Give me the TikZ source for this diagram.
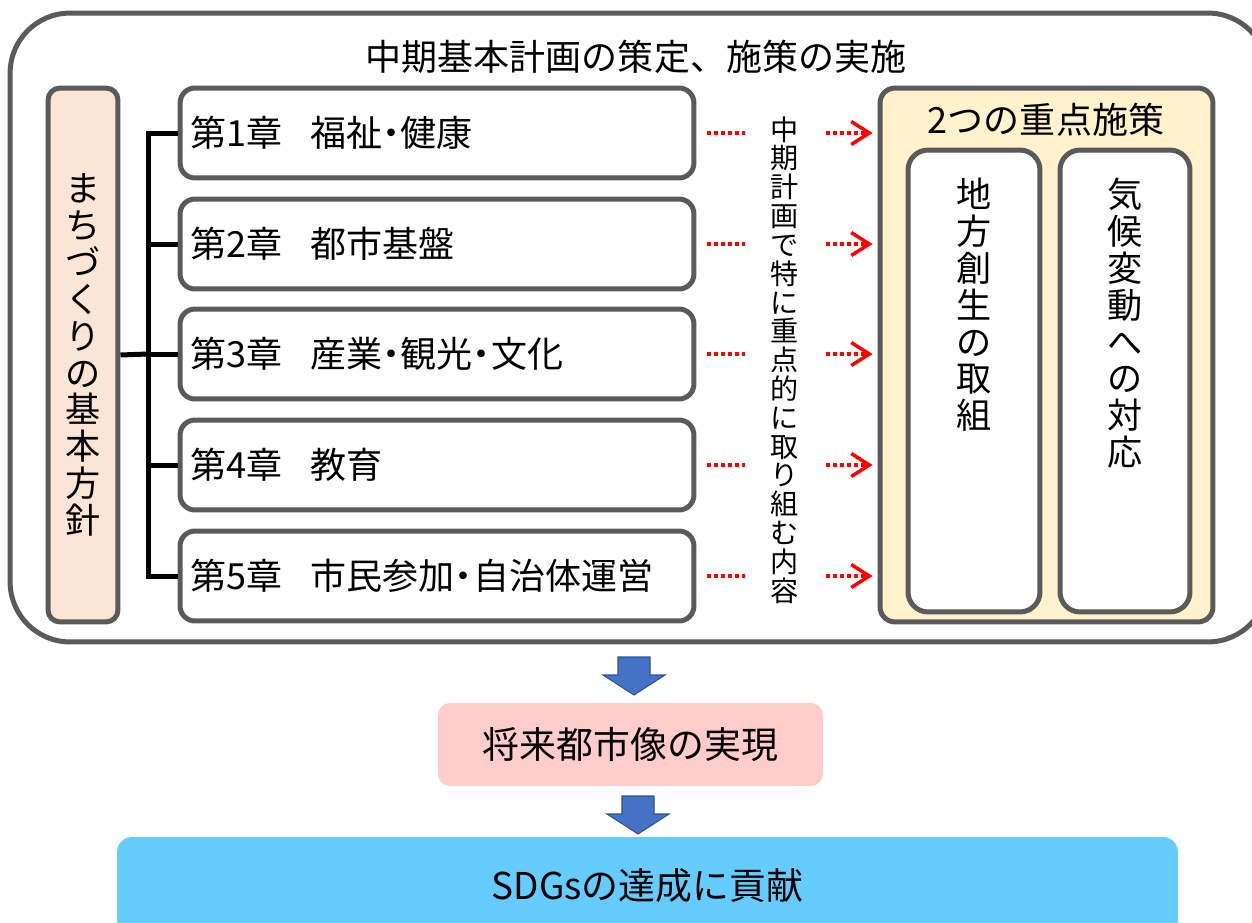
\documentclass[tikz,border=0pt]{standalone}
\usepackage{fontspec}
\setmainfont{Noto Sans CJK JP}
\usepackage{tikz}
\usetikzlibrary{arrows.meta,positioning,calc}
\definecolor{linegray}{HTML}{5A5A5A}
\definecolor{peach}{HTML}{FBE5D6}
\definecolor{cream}{HTML}{FFF2CC}
\definecolor{rose}{HTML}{FFCCCC}
\definecolor{sky}{HTML}{66CCFF}
\definecolor{arrowblue}{HTML}{4472C4}
\definecolor{arrowedge}{HTML}{2F528F}
\newcommand{\dotsep}{\makebox[0.5em][c]{・}}
\tikzset{
  frame/.style={draw=linegray, line width=0.1cm, rounded corners=1.2cm},
  chapter/.style={draw=linegray, line width=0.1cm, rounded corners=0.3cm, fill=white, text width=9.88cm, inner xsep=0.2cm, align=left, minimum height=1.8cm, font=\fontsize{20.5}{22}\selectfont},
  policy/.style={draw=linegray, line width=0.1cm, rounded corners=0.24cm, fill=peach, inner sep=0pt, align=center, font=\fontsize{20}{21}\selectfont},
  focus/.style={draw=linegray, line width=0.1cm, rounded corners=0.3cm, fill=cream},
  measure/.style={draw=linegray, line width=0.1cm, rounded corners=0.4cm, fill=white},
  vtext/.style={inner sep=0pt, align=center, font=\fontsize{20}{21}\selectfont},
  notetext/.style={inner sep=0pt, align=center, font=\fontsize{16}{16.4}\selectfont},
  heading/.style={inner sep=0pt, font=\fontsize{20.5}{22}\selectfont},
  tree/.style={line width=0.1cm, black},
  focusarrow/.style={red, line width=2pt, dash pattern=on 0.08cm off 0.06cm, -{Straight Barb[length=0.36cm,width=0.46cm]}, shorten <=0.22cm, shorten >=0.1cm},
  goal/.style={fill=rose, rounded corners=0.24cm, font=\fontsize{21}{23}\selectfont},
  sdg/.style={fill=sky, rounded corners=0.3cm, font=\fontsize{21}{23}\selectfont},
  blockdown/.pic={\filldraw[fill=arrowblue, draw=arrowedge, line width=0.6pt] (-16,0) -- (16,0) -- (16,18) -- (31,18) -- (0,38) -- (-31,18) -- (-16,18) -- cycle;}
}
\begin{document}
\begin{tikzpicture}[x=0.02cm, y=-0.02cm]
\useasboundingbox (0,0) rectangle (1252,923);
% outer frame
\node[frame, minimum width=25.16cm, minimum height=12.58cm] (plan) at (639,327.5) {};
\node[heading] (plantitle) at (636,57) {中期基本計画の策定、施策の実施};
% basic policy
\node[policy, minimum width=1.4cm, minimum height=10.68cm] (policy) at (83,355) {ま\\ち\\づ\\く\\り\\の\\基\\本\\方\\針};
% chapters
\foreach \n/\y/\txt in {1/133/{福祉\dotsep 健康}, 2/244/{都市基盤}, 3/354/{産業\dotsep 観光\dotsep 文化}, 4/465/{教育}, 5/576/{市民参加\dotsep 自治体運営}}
  \node[chapter] (ch\n) at (437,\y) {第\n 章\hspace{0.8em}\txt};
\coordinate (trunk) at (148,354);
\draw[tree] (ch1.west) -| (trunk |- ch5.west) -- (ch5.west);
\foreach \n in {2,3,4}
  \draw[tree] (trunk |- ch\n.west) -- (ch\n.west);
\draw[tree] (policy.east) -- (trunk);
% priority measures
\node[focus, minimum width=6.66cm, minimum height=10.68cm] (focus) at (1046.5,355) {};
\node[heading] (focustitle) at (1046,120) {2つの重点施策};
\node[measure, minimum width=2.64cm, minimum height=9.24cm] (regional) at (974,381) {};
\node[measure, minimum width=2.6cm, minimum height=9.24cm] (climate) at (1125,381) {};
\node[vtext, anchor=north] (regionaltext) at ($(regional.north)+(0,30)$) {地\\方\\創\\生\\の\\取\\組};
\node[vtext, anchor=north] (climatetext) at ($(climate.north)+(0,30)$) {気\\候\\変\\動\\へ\\の\\対\\応};
\foreach \n in {1,...,5}
  \draw[focusarrow] (ch\n.east) -- (focus.west |- ch\n.east);
\node[notetext, fill=white, minimum width=1.6cm] (note) at (785,360) {中\\期\\計\\画\\で\\特\\に\\重\\点\\的\\に\\取\\り\\組\\む\\内\\容};
% results
\pic at (634,657) {blockdown};
\node[goal, minimum width=7.7cm, minimum height=1.66cm] (vision) at (630.5,744.5) {将来都市像の実現};
\pic at (638,796) {blockdown};
\node[sdg, minimum width=21.22cm, minimum height=1.96cm] (sdgs) at (647.5,886) {SDGsの達成に貢献};
\end{tikzpicture}
\end{document}
